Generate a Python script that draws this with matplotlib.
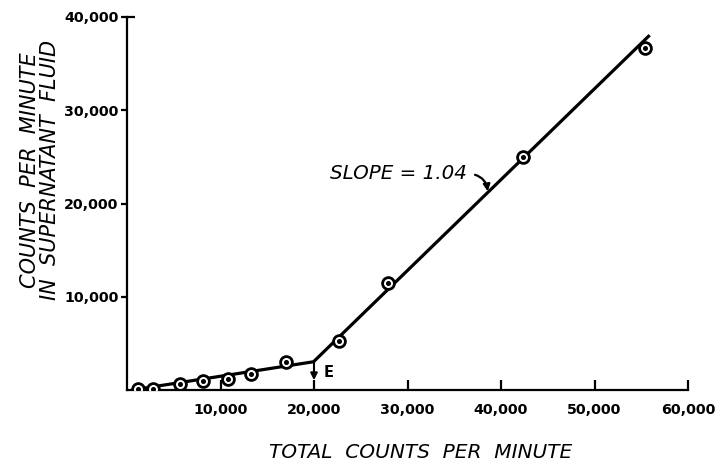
import matplotlib
matplotlib.use("Agg")
import matplotlib.pyplot as plt

# Data
total_cpm = [1200, 2800, 5700, 8100, 10800, 13300, 17000, 22700, 27900, 42400, 55400]
supernatant_cpm = [100, 120, 600, 1000, 1150, 1750, 2950, 5300, 11450, 25000, 36700]

# Fitted broken line (two segments meeting at E)
fit_x = [1200, 19950, 55900]
fit_y = [100, 3030, 38050]

x_ticks = [10000, 20000, 30000, 40000, 50000, 60000]
x_tick_labels = ["10,000", "20,000", "30,000", "40,000", "50,000", "60,000"]
y_ticks = [10000, 20000, 30000, 40000]
y_tick_labels = ["10,000", "20,000", "30,000", "40,000"]

plt.rcParams['font.family'] = ['DejaVu Sans']

fig = plt.figure(figsize=(7.15, 4.63), dpi=100)
ax = fig.add_axes([127/715, 1 - 390/463, (688-127)/715, (390-17)/463])

ax.plot(fit_x, fit_y, color='black', lw=2.3, solid_capstyle='butt', zorder=2)
ax.plot(total_cpm, supernatant_cpm, linestyle='none', marker='o', markersize=8.5,
        markerfacecolor='white', markeredgecolor='black', markeredgewidth=2.0, zorder=3)
ax.plot(total_cpm, supernatant_cpm, linestyle='none', marker='o', markersize=2.6,
        markerfacecolor='black', markeredgecolor='black', zorder=4)

ax.set_xlim(0, 60000)
ax.set_ylim(0, 40000)

for s in ['top', 'right']:
    ax.spines[s].set_visible(False)
for s in ['left', 'bottom']:
    ax.spines[s].set_linewidth(1.6)

ax.set_xticks(x_ticks)
ax.set_xticklabels(x_tick_labels, fontweight='bold', fontsize=10.3)
ax.set_yticks(y_ticks)
ax.set_yticklabels(y_tick_labels, fontweight='bold', fontsize=10.3)
ax.tick_params(axis='x', direction='in', length=7, width=1.6, pad=9)
ax.tick_params(axis='y', direction='out', length=4, width=1.6, pad=2)
# small right-pointing tick at the top of the y axis
ax.plot([0, 0.015], [1, 1], transform=ax.transAxes, color='black', lw=1.6,
        clip_on=False, solid_capstyle='butt')

# E marker arrow
ax.annotate('', xy=(20000, 1050), xytext=(20000, 3030),
            arrowprops=dict(arrowstyle='-|>', color='black', lw=1.5,
                            mutation_scale=10, shrinkA=0, shrinkB=0))
ax.text(21000, 1850, 'E', fontsize=10.5, fontweight='bold', ha='left', va='center')

# Slope annotation
ax.annotate('SLOPE = 1.04', xy=(38600, 21150), xytext=(21700, 23200),
            fontsize=14.3, fontstyle='italic', ha='left', va='center',
            arrowprops=dict(arrowstyle='-|>', color='black', lw=1.6,
                            mutation_scale=10, connectionstyle='arc3,rad=-0.45',
                            relpos=(1, 0.5), shrinkA=4, shrinkB=1))

fig.text(421/715, 1 - 453/463, 'TOTAL  COUNTS  PER  MINUTE', fontsize=14.5,
         fontstyle='italic', ha='center', va='center')
fig.text(40/715, 1 - 170/463, 'COUNTS  PER  MINUTE\nIN  SUPERNATANT  FLUID', fontsize=15,
         fontstyle='italic', ha='center', va='center', rotation=90, linespacing=1.05)

fig.savefig('out.png', dpi=100)
